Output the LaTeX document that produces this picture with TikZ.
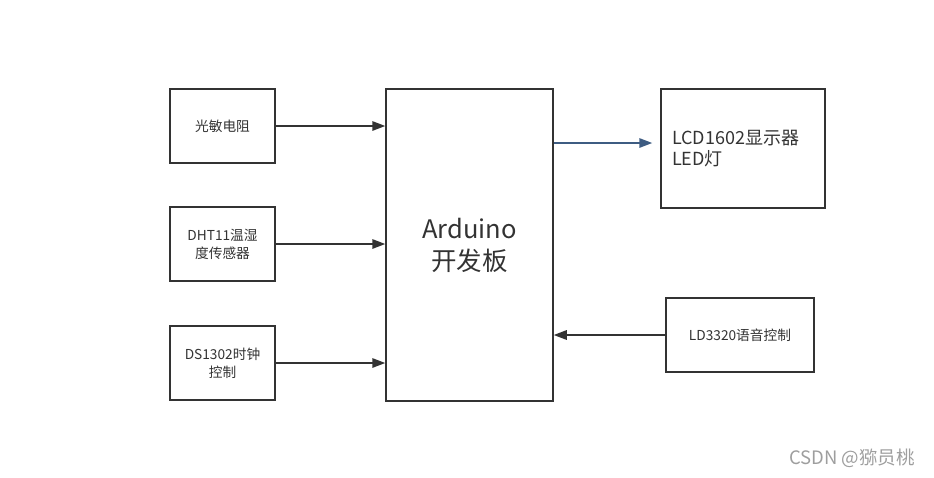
\documentclass[tikz,border=0pt]{standalone}
\usepackage{fontspec}
\setmainfont{Noto Sans CJK SC}
\usetikzlibrary{arrows.meta,positioning}

\definecolor{boxline}{RGB}{51,51,51}
\definecolor{busline}{RGB}{62,92,130}

\begin{document}
\begin{tikzpicture}[x=1pt, y=-1pt,
  blk/.style={draw=boxline, line width=1.5pt, rectangle, align=center, inner sep=2pt, text=boxline, font=\fontsize{13.7}{18}\selectfont},
  link/.style={draw=boxline, line width=1.6pt, -{Triangle[length=13pt,width=9.5pt]}}]
  \useasboundingbox (0,0) rectangle (934,477);

  % inputs - left column
  \node[blk, minimum width=105, minimum height=74] (ldr) at (222.5,126) {光敏电阻};
  \node[blk, minimum width=105, minimum height=74] (dht) at (222.5,244) {DHT11温湿\\度传感器};
  \node[blk, minimum width=105, minimum height=74] (rtc) at (222.5,363) {DS1302时钟\\控制};

  % main board
  \node[blk, minimum width=167, minimum height=312, font=\fontsize{25.5}{32}\selectfont] (ardu) at (469.5,245) {Arduino\\开发板};

  % outputs / voice module - right
  \node[blk, minimum width=164, minimum height=119, text width=142, inner xsep=11, align=left, font=\fontsize{18}{21}\selectfont] (lcd) at (743,148.5) {LCD1602显示器\\LED灯};
  \node[blk, minimum width=148, minimum height=74] (voice) at (740,335) {LD3320语音控制};

  \draw[link] (ldr.east) -- (ldr.east -| ardu.west);
  \draw[link] (dht.east) -- (dht.east -| ardu.west);
  \draw[link] (rtc.east) -- (rtc.east -| ardu.west);
  \draw[link, draw=busline, shorten >=8pt] ([yshift=5.5pt]lcd.west -| ardu.east) -- ([yshift=5.5pt]lcd.west);
  \draw[link] (voice.west) -- (voice.west -| ardu.east);

  \node[text=black!38, font=\fontsize{18.5}{22}\selectfont] (mark) at (852,458) {CSDN @猕员桃};
\end{tikzpicture}
\end{document}
